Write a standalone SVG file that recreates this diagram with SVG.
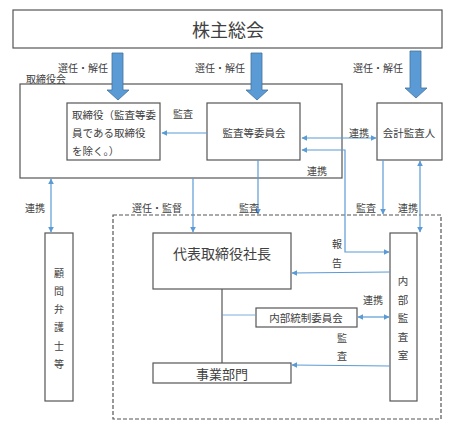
<svg xmlns="http://www.w3.org/2000/svg" width="461" height="435" viewBox="0 0 461 435">
<defs>
<marker id="ah" viewBox="0 0 10 10" refX="9" refY="5" markerWidth="6" markerHeight="6" orient="auto-start-reverse" markerUnits="userSpaceOnUse">
<path d="M0,0 L10,5 L0,10 z" fill="#5b9bd5"/>
</marker>
</defs>
<style>
.box{fill:#fff;stroke:#555;stroke-width:1.2}
.t{font-family:"Noto Sans CJK JP","Noto Sans",sans-serif;fill:#404040;font-size:10.5px;text-anchor:middle;dominant-baseline:central}
.s{font-size:10px}
.l{fill:none;stroke:#5b9bd5;stroke-width:1.2}
.g{fill:none;stroke:#555;stroke-width:1.2}
.big{fill:#5b9bd5;stroke:#41719c;stroke-width:0.8}
</style>
<rect width="461" height="435" fill="#fff"/>

<g id="shareholders">
<rect class="box" x="13" y="10" width="429" height="38"/>
<text class="t" x="228" y="29" style="font-size:18px">株主総会</text>
</g>

<g id="board">
<rect class="box" x="20" y="84" width="322" height="94"/>
<text class="t s" x="46" y="78.5">取締役会</text>
</g>

<g id="directors">
<rect class="box" x="67" y="103" width="93" height="57"/>
<text class="t" x="72" y="114" style="text-anchor:start">取締役（監査等委</text>
<text class="t" x="72" y="132" style="text-anchor:start">員である取締役</text>
<text class="t" x="72" y="150" style="text-anchor:start">を除く。）</text>
</g>

<g id="audit-committee">
<rect class="box" x="207" y="103" width="93" height="57"/>
<text class="t" x="254" y="132">監査等委員会</text>
</g>

<g id="accounting-auditor">
<rect class="box" x="377" y="103" width="65" height="57"/>
<text class="t" x="409" y="132">会計監査人</text>
</g>

<g id="executive-area">
<rect x="113" y="215" width="328" height="204" fill="none" stroke="#555" stroke-width="1.2" stroke-dasharray="4,2"/>
</g>

<g id="legal-advisors">
<rect class="box" x="45" y="233" width="28" height="168"/>
<text class="t s" x="59" y="272">顧</text>
<text class="t s" x="59" y="290">問</text>
<text class="t s" x="59" y="308">弁</text>
<text class="t s" x="59" y="326">護</text>
<text class="t s" x="59" y="345">士</text>
<text class="t s" x="59" y="363">等</text>
</g>

<g id="president">
<rect class="box" x="153" y="233" width="138" height="56"/>
<text class="t" x="222" y="253" style="font-size:14px">代表取締役社長</text>
</g>

<g id="internal-control">
<rect class="box" x="256" y="308" width="101" height="19"/>
<text class="t" x="306" y="317">内部統制委員会</text>
</g>

<g id="business">
<rect class="box" x="153" y="363" width="138" height="20"/>
<text class="t" x="222" y="373" style="font-size:13px">事業部門</text>
</g>

<g id="internal-audit">
<rect class="box" x="390" y="233" width="27" height="168"/>
<text class="t" x="403" y="280">内</text>
<text class="t" x="403" y="299">部</text>
<text class="t" x="403" y="317">監</text>
<text class="t" x="403" y="336">査</text>
<text class="t" x="403" y="354">室</text>
</g>

<g id="connectors">
<path class="big" d="M112,53 H123 V90 H129 L118,100 L107,90 H112 Z"/>
<path class="big" d="M251,53 H262 V90 H268 L257,100 L246,90 H251 Z"/>
<path class="big" d="M410,51 H421 V88 H427 L416,98 L405,88 H410 Z"/>
<text class="t s" x="83" y="67">選任・解任</text>
<text class="t s" x="220" y="67">選任・解任</text>
<text class="t s" x="378" y="67">選任・解任</text>

<line class="l" x1="207" y1="133" x2="162" y2="133" marker-end="url(#ah)"/>
<text class="t s" x="183" y="113">監査</text>

<line class="l" x1="302" y1="138" x2="376" y2="138" marker-start="url(#ah)" marker-end="url(#ah)"/>
<text class="t s" x="359" y="132">連携</text>

<polyline class="l" points="302,150 345,150 345,252 389,252" marker-start="url(#ah)" marker-end="url(#ah)"/>
<text class="t s" x="317" y="170">連携</text>
<text class="t s" x="337" y="243">報</text>
<text class="t s" x="337" y="262">告</text>

<line class="l" x1="258" y1="160" x2="258" y2="214" marker-end="url(#ah)"/>
<text class="t s" x="249" y="207">監査</text>

<line class="l" x1="383" y1="160" x2="383" y2="214" marker-end="url(#ah)"/>
<text class="t s" x="366" y="207">監査</text>

<line class="l" x1="420" y1="161" x2="420" y2="232" marker-start="url(#ah)" marker-end="url(#ah)"/>
<text class="t s" x="408" y="207">連携</text>

<line class="l" x1="193" y1="178" x2="193" y2="232" marker-end="url(#ah)"/>
<text class="t s" x="157" y="207">選任・監督</text>

<line class="l" x1="51" y1="179" x2="51" y2="232" marker-start="url(#ah)" marker-end="url(#ah)"/>
<text class="t s" x="35" y="207">連携</text>

<line class="g" x1="222" y1="289" x2="222" y2="363"/>
<line x1="222" y1="315" x2="255" y2="315" stroke="#5b9bd5" stroke-width="0.8"/>

<line class="l" x1="358" y1="317" x2="389" y2="317" marker-start="url(#ah)" marker-end="url(#ah)"/>
<text class="t s" x="373" y="299">連携</text>
<text class="t s" x="342" y="337">監</text>
<text class="t s" x="342" y="355">査</text>

<line class="l" x1="390" y1="272" x2="292" y2="273" marker-end="url(#ah)"/>
<line class="l" x1="390" y1="366" x2="292" y2="365" marker-end="url(#ah)"/>
</g>
</svg>
